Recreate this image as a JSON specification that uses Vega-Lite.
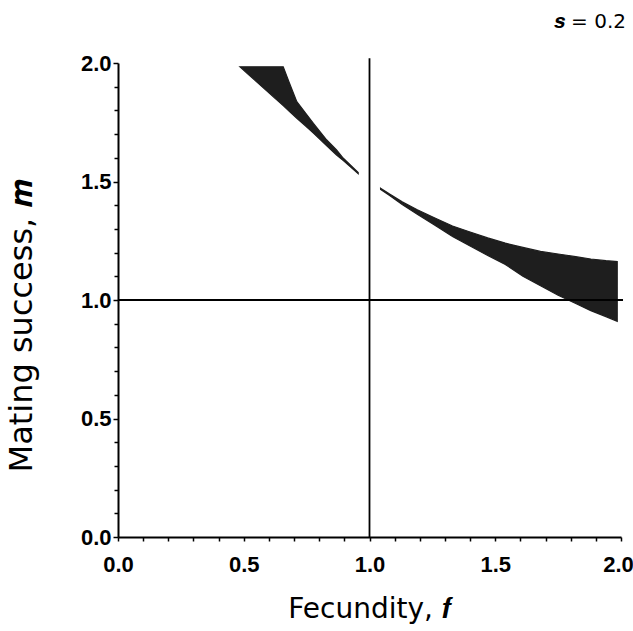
{
  "$schema": "https://vega.github.io/schema/vega-lite/v6.json",
  "autosize": "none",
  "width": 503,
  "height": 474,
  "padding": {"left": 118, "top": 63, "right": 12, "bottom": 94},
  "background": "white",
  "config": {
    "view": {"stroke": null},
    "axis": {
      "labelFont": "Liberation Sans",
      "labelFontSize": 22,
      "labelFontWeight": "bold",
      "labelColor": "#000",
      "tickColor": "#000",
      "tickWidth": 1.5,
      "domainColor": "#000",
      "domainWidth": 2,
      "grid": false,
      "labelFlush": false,
      "labelOverlap": false
    }
  },
  "resolve": {"axis": {"x": "independent", "y": "independent"}},
  "title": {
    "text": "𝒔 = 0.2",
    "anchor": "end",
    "frame": "group",
    "font": "DejaVu Sans",
    "fontSize": 20,
    "fontWeight": "normal",
    "color": "#000",
    "baseline": "alphabetic",
    "offset": 4,
    "dx": 5
  },
  "datasets": {
    "region": [
      {"piece": "a", "f": 0.485, "hi": 1.984, "lo": 1.984},
      {"piece": "a", "f": 0.52, "hi": 1.984, "lo": 1.95},
      {"piece": "a", "f": 0.578, "hi": 1.984, "lo": 1.895},
      {"piece": "a", "f": 0.62, "hi": 1.984, "lo": 1.855},
      {"piece": "a", "f": 0.657, "hi": 1.984, "lo": 1.82},
      {"piece": "a", "f": 0.68, "hi": 1.92, "lo": 1.797},
      {"piece": "a", "f": 0.711, "hi": 1.837, "lo": 1.767},
      {"piece": "a", "f": 0.745, "hi": 1.79, "lo": 1.735},
      {"piece": "a", "f": 0.777, "hi": 1.745, "lo": 1.704},
      {"piece": "a", "f": 0.83, "hi": 1.675, "lo": 1.651},
      {"piece": "a", "f": 0.869, "hi": 1.633, "lo": 1.612},
      {"piece": "a", "f": 0.896, "hi": 1.598, "lo": 1.588},
      {"piece": "a", "f": 0.955, "hi": 1.538, "lo": 1.533},
      {"piece": "b", "f": 1.044, "hi": 1.472, "lo": 1.467},
      {"piece": "b", "f": 1.08, "hi": 1.447, "lo": 1.441},
      {"piece": "b", "f": 1.13, "hi": 1.414, "lo": 1.403},
      {"piece": "b", "f": 1.19, "hi": 1.381, "lo": 1.362},
      {"piece": "b", "f": 1.26, "hi": 1.346, "lo": 1.315},
      {"piece": "b", "f": 1.33, "hi": 1.312, "lo": 1.268},
      {"piece": "b", "f": 1.4, "hi": 1.287, "lo": 1.228},
      {"piece": "b", "f": 1.47, "hi": 1.262, "lo": 1.188},
      {"piece": "b", "f": 1.54, "hi": 1.24, "lo": 1.15},
      {"piece": "b", "f": 1.61, "hi": 1.222, "lo": 1.1},
      {"piece": "b", "f": 1.68, "hi": 1.205, "lo": 1.06},
      {"piece": "b", "f": 1.75, "hi": 1.194, "lo": 1.02},
      {"piece": "b", "f": 1.82, "hi": 1.183, "lo": 0.985},
      {"piece": "b", "f": 1.88, "hi": 1.173, "lo": 0.955},
      {"piece": "b", "f": 1.94, "hi": 1.166, "lo": 0.93},
      {"piece": "b", "f": 1.985, "hi": 1.162, "lo": 0.91}
    ],
    "vline": [{"f": 1, "m": 0, "m2": 2.02}],
    "hline": [{"f": 0, "f2": 2.008, "m": 1}]
  },
  "layer": [
    {
      "data": {"name": "region"},
      "mark": {"type": "area", "fill": "#1e1e1e", "stroke": "#1e1e1e", "strokeWidth": 1.2, "interpolate": "linear"},
      "encoding": {
        "x": {
          "field": "f", "type": "quantitative",
          "scale": {"domain": [0, 2], "nice": false, "zero": false},
          "axis": {
            "orient": "bottom",
            "title": "Fecundity, 𝒇",
            "titleFont": "DejaVu Sans",
            "titleFontSize": 28,
            "titleFontWeight": "normal",
            "titleColor": "#000",
            "titleBaseline": "alphabetic",
            "titleY": 80,
            "values": [0, 0.5, 1.0, 1.5, 2.0],
            "format": ".1f",
            "labelPadding": 13,
            "labelOffset": {"condition": {"test": "datum.value > 1.99", "value": -3}, "value": 0},
            "tickSize": 4
          }
        },
        "y": {
          "field": "hi", "type": "quantitative",
          "scale": {"domain": [0, 2], "nice": false, "zero": false},
          "axis": {
            "orient": "left",
            "title": "Mating success, 𝒎",
            "titleFont": "DejaVu Sans",
            "titleFontSize": 32,
            "titleFontWeight": "normal",
            "titleColor": "#000",
            "titleBaseline": "alphabetic",
            "titleAngle": -90,
            "titleAlign": "center",
            "titleX": -87,
            "titleY": 262,
            "values": [0, 0.5, 1.0, 1.5, 2.0],
            "format": ".1f",
            "labelPadding": 2,
            "tickSize": 5
          }
        },
        "y2": {"field": "lo"},
        "detail": {"field": "piece"}
      }
    },
    {
      "data": {"name": "vline"},
      "mark": {"type": "rule", "color": "#000", "strokeWidth": 1.8},
      "encoding": {
        "x": {
          "field": "f", "type": "quantitative",
          "axis": {
            "orient": "bottom",
            "title": null,
            "labels": false,
            "domain": false,
            "values": [0.1, 0.2, 0.3, 0.4, 0.6, 0.7, 0.8, 0.9, 1.1, 1.2, 1.3, 1.4, 1.6, 1.7, 1.8, 1.9],
            "tickSize": 4
          }
        },
        "y": {
          "field": "m", "type": "quantitative",
          "axis": {
            "orient": "left",
            "title": null,
            "labels": false,
            "domain": false,
            "values": [0.1, 0.2, 0.3, 0.4, 0.6, 0.7, 0.8, 0.9, 1.1, 1.2, 1.3, 1.4, 1.6, 1.7, 1.8, 1.9],
            "tickSize": 4
          }
        },
        "y2": {"field": "m2"}
      }
    },
    {
      "data": {"name": "hline"},
      "mark": {"type": "rule", "color": "#000", "strokeWidth": 1.8},
      "encoding": {
        "x": {"field": "f", "type": "quantitative", "axis": null},
        "x2": {"field": "f2"},
        "y": {"field": "m", "type": "quantitative", "axis": null}
      }
    }
  ]
}
